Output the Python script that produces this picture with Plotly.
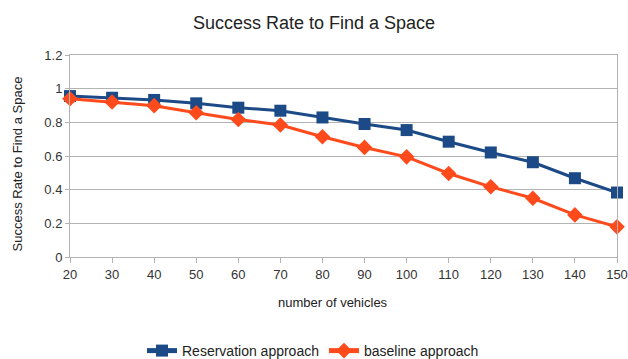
import plotly.graph_objects as go

vehicles = [20, 30, 40, 50, 60, 70, 80, 90, 100, 110, 120, 130, 140, 150]
reservation = [0.956, 0.946, 0.933, 0.913, 0.887, 0.869, 0.829, 0.790, 0.754, 0.685, 0.621, 0.563, 0.468, 0.383]
baseline = [0.940, 0.921, 0.899, 0.857, 0.817, 0.784, 0.714, 0.651, 0.595, 0.496, 0.417, 0.349, 0.250, 0.179]

y_ticks = [0, 0.2, 0.4, 0.6, 0.8, 1, 1.2]
y_tick_text = ["0", "0.2", "0.4", "0.6", "0.8", "1", "1.2"]

BLUE = "#1c4a87"
ORANGE = "#ff4a1c"
FONT = "Liberation Sans, Arial, sans-serif"

W, H = 628, 359
L, R, T, B = 70, 11, 55, 102
plot_w, plot_h = W - L - R, H - T - B


def px_to_paper_x(px):
    return (px - L) / plot_w


def px_to_paper_y(py):
    return (H - B - py) / plot_h


fig = go.Figure()
fig.add_trace(go.Scatter(
    x=vehicles, y=reservation, name="Reservation approach",
    mode="lines+markers", cliponaxis=False,
    line=dict(color=BLUE, width=3),
    marker=dict(symbol="square", size=12, color=BLUE),
))
fig.add_trace(go.Scatter(
    x=vehicles, y=baseline, name="baseline approach",
    mode="lines+markers", cliponaxis=False,
    line=dict(color=ORANGE, width=3),
    marker=dict(symbol="diamond", size=12, color=ORANGE),
))

fig.update_layout(
    width=W, height=H,
    margin=dict(l=L, r=R, t=T, b=B, autoexpand=False),
    paper_bgcolor="white", plot_bgcolor="white",
    font=dict(family=FONT, size=12, color="#333333"),
    title=dict(text="Success Rate to Find a Space", x=0.5, xanchor="center",
               y=1 - 23 / H, yanchor="middle",
               font=dict(family=FONT, size=18, color="#222222")),
    showlegend=True,
    legend=dict(orientation="h", x=px_to_paper_x(142), xanchor="left",
                y=px_to_paper_y(351), yanchor="middle",
                font=dict(family=FONT, size=14, color="#222222"),
                itemwidth=30, itemsizing="constant", tracegroupgap=0),
    annotations=[
        # axis titles
        dict(text="number of vehicles", xref="paper", yref="paper",
             x=px_to_paper_x(333), y=px_to_paper_y(302),
             xanchor="center", yanchor="middle", showarrow=False,
             font=dict(family=FONT, size=13, color="#222222")),
        dict(text="Success Rate to Find a Space", xref="paper", yref="paper",
             x=px_to_paper_x(17), y=px_to_paper_y(164.5), textangle=-90,
             xanchor="center", yanchor="middle", showarrow=False,
             font=dict(family=FONT, size=13, color="#222222")),
    ],
)
fig.update_xaxes(
    range=[20, 150], tickvals=vehicles, ticktext=[str(v) for v in vehicles],
    showgrid=False, zeroline=False,
    showline=True, linecolor="#b3b3b3", mirror=True,
    ticks="outside", ticklen=5, tickcolor="#b3b3b3",
    tickfont=dict(family=FONT, size=13, color="#333333"),
)
fig.update_yaxes(
    range=[0, 1.2], tickvals=y_ticks, ticktext=y_tick_text,
    showgrid=True, gridcolor="#b3b3b3", gridwidth=1, zeroline=False,
    showline=True, linecolor="#b3b3b3", mirror=True,
    ticks="outside", ticklen=4, tickcolor="#b3b3b3",
    tickfont=dict(family=FONT, size=13, color="#333333"),
)

fig.write_html("out.html")
